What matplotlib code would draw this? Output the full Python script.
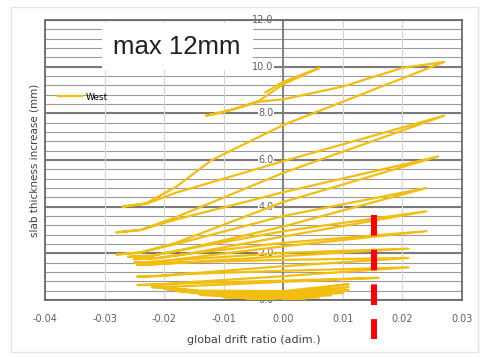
import numpy as np
import matplotlib
matplotlib.use("Agg")
import matplotlib.pyplot as plt
from matplotlib.patches import Rectangle

# global drift ratio / slab thickness increase (mm)
drift = [
    0.000, 0.004, -0.006, 0.006, -0.010, -0.004, 0.008, -0.014, -0.006, 0.010,
    -0.018, -0.008, 0.000, 0.011, 0.000, -0.012, -0.020, -0.010, 0.000, 0.011,
    0.000, -0.012, -0.022, -0.012, 0.000, 0.011, 0.000, -0.014, -0.022,
    -0.019, -0.012, 0.000, 0.016, 0.000, -0.016, -0.021, -0.0245,
    -0.021, -0.016, 0.000, 0.021, 0.000, -0.016, -0.021, -0.0245,
    -0.021, -0.016, 0.000, 0.021, 0.000, -0.016, -0.021, -0.0245,
    -0.021, -0.016, 0.000, 0.021, 0.000, -0.016, -0.021, -0.025,
    -0.021, -0.016, 0.000, 0.024, 0.000, -0.016, -0.021, -0.025,
    -0.021, -0.016, 0.000, 0.024, 0.000, -0.017, -0.022, -0.026,
    -0.022, -0.017, 0.000, 0.024, 0.000, -0.018, -0.024, -0.028,
    -0.024, -0.018, 0.000, 0.026, 0.000, -0.018, -0.024, -0.028,
    -0.024, -0.018, 0.000, 0.027, 0.000, -0.018, -0.023, -0.027,
    -0.023, -0.018, -0.012, 0.000, 0.016, 0.027,
    0.020, 0.010, 0.000, -0.004, -0.010, -0.013,
    -0.008, -0.004, 0.000, 0.006, 0.000, -0.003,
]
thick = [
    0.00, 0.08, 0.06, 0.12, 0.12, 0.05, 0.20, 0.22, 0.10, 0.30,
    0.38, 0.15, 0.12, 0.42, 0.20, 0.22, 0.48, 0.22, 0.18, 0.55,
    0.28, 0.30, 0.60, 0.32, 0.30, 0.68, 0.38, 0.40, 0.55,
    0.57, 0.64, 0.78, 0.95, 0.83, 0.72, 0.66, 0.64,
    0.67, 0.76, 1.02, 1.40, 1.25, 1.12, 1.03, 1.00,
    1.03, 1.13, 1.45, 1.80, 1.72, 1.62, 1.54, 1.50,
    1.54, 1.62, 1.88, 2.20, 2.02, 1.74, 1.64, 1.60,
    1.65, 1.80, 2.30, 2.95, 2.45, 1.98, 1.80, 1.75,
    1.80, 1.98, 2.72, 3.80, 2.95, 2.15, 1.90, 1.85,
    1.90, 2.15, 3.15, 4.80, 3.60, 2.40, 2.04, 1.95,
    2.03, 2.45, 4.20, 6.15, 4.62, 3.45, 3.00, 2.90,
    3.00, 3.55, 5.45, 7.90, 5.95, 4.60, 4.12, 4.00,
    4.15, 4.85, 6.00, 7.50, 9.10, 10.20,
    9.95, 9.15, 8.60, 8.50, 8.05, 7.90,
    8.20, 8.55, 9.25, 9.94, 9.35, 8.90,
]

x_ticks = [-0.04, -0.03, -0.02, -0.01, 0.00, 0.01, 0.02, 0.03]
y_ticks = [0.0, 2.0, 4.0, 6.0, 8.0, 10.0, 12.0]
red_x = 0.0153
red_y = [3.64, -1.68]

fig = plt.figure(figsize=(4.82, 3.57), dpi=100)
fig.patch.set_facecolor("white")
fig.patches.append(Rectangle((11 / 482, 5 / 357), 467 / 482, 345 / 357, transform=fig.transFigure,
                             fill=False, edgecolor="#e4e4e4", lw=1.0))
ax = fig.add_axes([45 / 482, 57 / 357, 417 / 482, 280 / 357])

ax.set_xlim(-0.04, 0.03)
ax.set_ylim(0, 12)

# grid
for v in np.arange(0, 12.01, 0.4):
    ax.axhline(v, color="#9a9a9a", lw=0.8, zorder=0)
for v in y_ticks:
    ax.axhline(v, color="#7a7a7a", lw=1.5, zorder=0)
for v in x_ticks:
    ax.axvline(v, color="#d4d4d4", lw=0.8, zorder=0)
ax.axvline(0, color="#7a7a7a", lw=1.3, zorder=1)

for s in ax.spines.values():
    s.set_color("#6a6a6a")
    s.set_linewidth(1.3)

ax.plot(drift, thick, color="#F2BE12", lw=1.6, solid_joinstyle="round", zorder=3, label="West")

ax.set_xticks(x_ticks)
ax.set_xticklabels(["%.2f" % t for t in x_ticks])
ax.tick_params(axis="x", length=0, pad=10, labelsize=7, labelcolor="#606060")
ax.set_yticks([])
for v in y_ticks:
    ax.text(-0.0016, v, "%.1f" % v, ha="right", va="center", fontsize=7, color="#606060",
            bbox=dict(facecolor="white", edgecolor="none", pad=0.5), zorder=2)

ax.set_xlabel("global drift ratio (adim.)", fontsize=8, color="#404040", labelpad=8)
ax.set_ylabel("slab thickness increase (mm)", fontsize=7.5, color="#404040", labelpad=4)

ax.legend(loc="center left", bbox_to_anchor=(0.031, 0.725), frameon=False, fontsize=6.5,
          handlelength=2.7, handletextpad=0.4, borderpad=0, borderaxespad=0)

ax.text(-0.0178, 10.85, "max 12mm", fontsize=18.5, family="Liberation Sans", color="#202020",
        ha="center", va="center", zorder=6,
        bbox=dict(facecolor="white", edgecolor="none", boxstyle="square,pad=0.45"))

ax.plot([red_x, red_x], red_y, color="#FF0000", lw=4.3, linestyle=(0, (3.46, 2.35)),
        solid_capstyle="butt", dash_capstyle="butt", clip_on=False, zorder=7)

fig.savefig("out.png", dpi=100, facecolor="white")
